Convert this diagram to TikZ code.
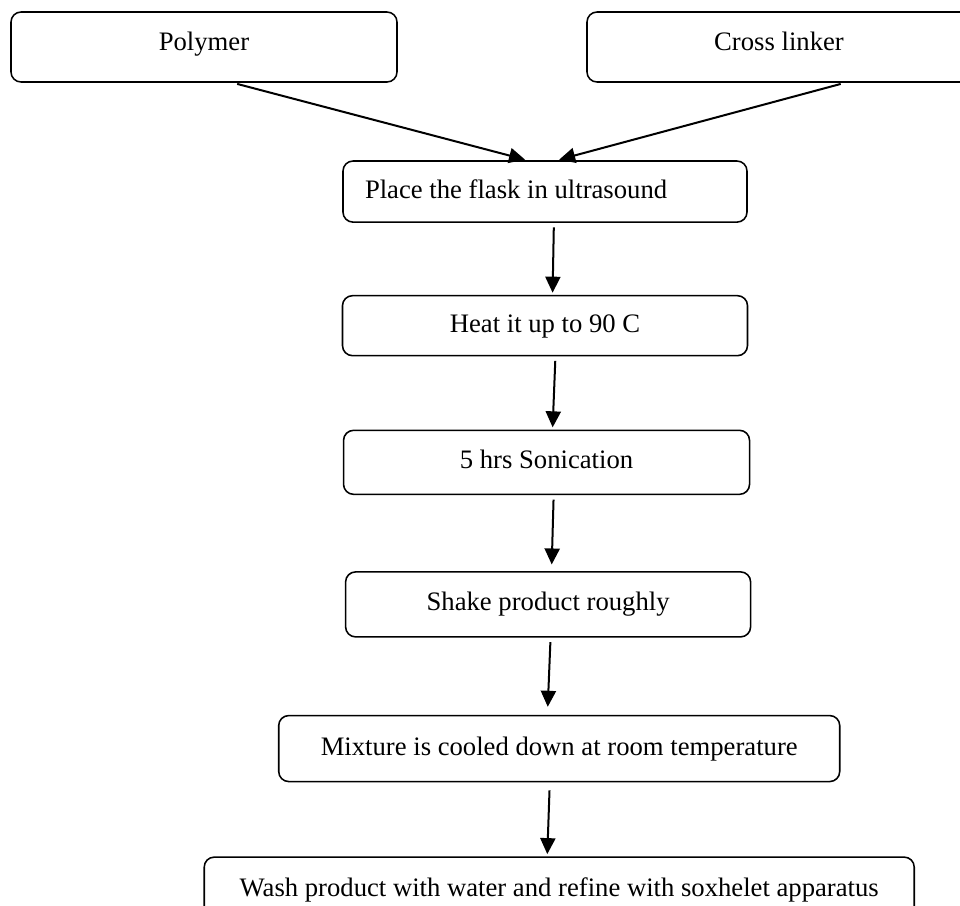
\documentclass[tikz,border=0pt]{standalone}
\usepackage{fontspec}
\setmainfont{Liberation Serif}
\usetikzlibrary{positioning,arrows.meta}

\begin{document}
\begin{tikzpicture}[>={Triangle[length=7.2pt,width=6.8pt]},font=\fontsize{12pt}{14pt}\selectfont,
  stepbox/.style={draw,line width=0.7pt,rounded corners=4.5pt,fill=white,inner sep=0pt,text height=8.4pt,text depth=2.6pt},
  flow/.style={->,line width=0.9pt,shorten <=2pt,shorten >=1pt}]
  \useasboundingbox (0,0) rectangle (432pt,-407.7pt);
  \node[stepbox,minimum width=173.7pt,minimum height=31.5pt,text depth=5.2pt] (polymer) at (91.8pt,-21.15pt) {Polymer};
  \node[stepbox,minimum width=172.8pt,minimum height=31.5pt,text depth=5.2pt] (linker) at (350.55pt,-21.15pt) {Cross linker};
  \node[stepbox,minimum height=27.5pt,inner xsep=9.9pt,text width=162pt,align=flush left] (place) at (245.25pt,-86.2pt) {Place the flask in ultrasound};
  \node[stepbox,below=32.4pt of place,minimum width=182.25pt,minimum height=27pt] (heat) {Heat it up to 90 C};
  \node[stepbox,below=32.9pt of heat,xshift=0.7pt,minimum width=182.7pt,minimum height=28.8pt] (sonic) {5 hrs Sonication};
  \node[stepbox,below=34.2pt of sonic,xshift=0.7pt,minimum width=182.25pt,minimum height=29.25pt] (shake) {Shake product roughly};
  \node[stepbox,below=34.7pt of shake,xshift=5pt,minimum width=252.45pt,minimum height=29.7pt] (cool) {Mixture is cooled down at room temperature};
  \node[stepbox,below=33.3pt of cool,minimum width=319.5pt,minimum height=29.25pt] (wash) {Wash product with water and refine with soxhelet apparatus};
  \draw[flow] ([xshift=13pt]polymer.south) -- ([xshift=-8pt]place.north);
  \draw[flow] ([xshift=29.7pt]linker.south) -- ([xshift=5.4pt]place.north);
  \draw[flow] ([xshift=4pt]place.south) -- ([xshift=3.4pt]heat.north);
  \draw[flow] ([xshift=4.7pt]heat.south) -- ([xshift=2.7pt]sonic.north);
  \draw[flow] ([xshift=3.2pt]sonic.south) -- ([xshift=1.6pt,yshift=2pt]shake.north);
  \draw[flow] ([xshift=1.1pt]shake.south) -- ([xshift=-5.2pt,yshift=2.6pt]cool.north);
  \draw[flow] ([xshift=-4.3pt,yshift=-1.6pt]cool.south) -- ([xshift=-5.4pt]wash.north);
\end{tikzpicture}
\end{document}
